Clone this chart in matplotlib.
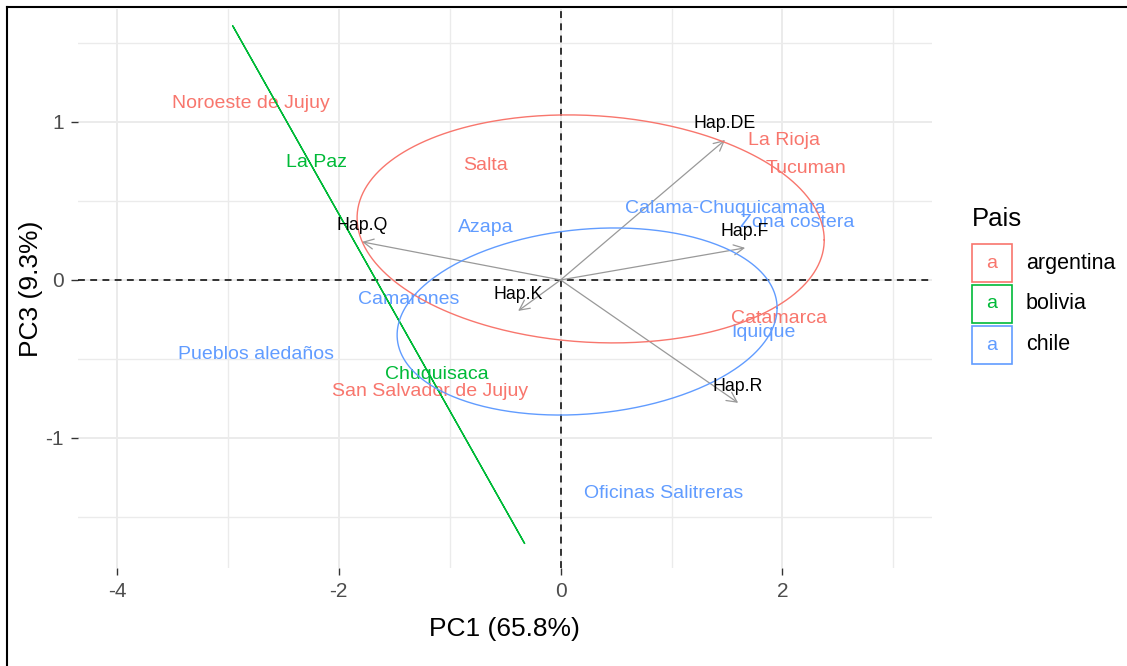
import numpy as np
import matplotlib
matplotlib.use("Agg")
import matplotlib.pyplot as plt
from matplotlib.patches import Rectangle
from matplotlib.lines import Line2D

plt.rcParams['font.family'] = ['Liberation Sans', 'DejaVu Sans']
plt.rcParams['axes.unicode_minus'] = False

# ---- data -------------------------------------------------------------
groups = ['argentina', 'bolivia', 'chile']
group_colors = ['#F8766D', '#00BA38', '#619CFF']

site_names = ['Noroeste de Jujuy', 'La Paz', 'Salta', 'La Rioja', 'Tucuman',
              'Calama-Chuquicamata', 'Zona costera', 'Azapa', 'Camarones',
              'Catamarca', 'Iquique', 'Pueblos aledaños', 'Chuquisaca',
              'San Salvador de Jujuy', 'Oficinas Salitreras']
site_group = ['argentina', 'bolivia', 'argentina', 'argentina', 'argentina',
              'chile', 'chile', 'chile', 'chile',
              'argentina', 'chile', 'chile', 'bolivia',
              'argentina', 'chile']
site_pc1 = [-2.795, -2.200, -0.676, 2.015, 2.214,
            1.483, 2.132, -0.672, -1.372,
            1.970, 1.833, -2.744, -1.116,
            -1.174, 0.933]
site_pc3 = [1.117, 0.741, 0.722, 0.884, 0.704,
            0.454, 0.363, 0.329, -0.125,
            -0.241, -0.335, -0.473, -0.599,
            -0.703, -1.350]

hap_names = ['Hap.DE', 'Hap.F', 'Hap.Q', 'Hap.K', 'Hap.R']
hap_pc1 = [1.483, 1.664, -1.790, -0.383, 1.601]
hap_pc3 = [0.886, 0.203, 0.241, -0.196, -0.778]

# group ellipses: centre, semi-extent along each axis, correlation
ellipse_cx = [0.271, -1.641, 0.239]
ellipse_cy = [0.323, -0.029, -0.263]
ellipse_rx = [2.106, 1.315, 1.713]
ellipse_ry = [0.7215, 1.637, 0.592]
ellipse_rho = [-0.0965, -1.0, 0.144]

x_major = [-4, -2, 0, 2]
x_minor = [-3, -1, 1, 3]
y_major = [-1, 0, 1]
y_minor = [-1.5, -0.5, 0.5, 1.5]

# ---- figure -------------------------------------------------------------
W, H = 1127, 666
fig = plt.figure(figsize=(W / 100, H / 100), dpi=100)
fig.patch.set_facecolor('white')


def fx(px):
    return px / W


def fy(py):
    return 1 - py / H


ax = fig.add_axes([fx(77.7), fy(568.3), (931.7 - 77.7) / W, (568.3 - 8.5) / H])
ax.set_xlim(-4.354, 3.346)
ax.set_ylim(-1.825, 1.718)
for s in ax.spines.values():
    s.set_visible(False)

ax.set_xticks(x_major)
ax.set_xticks(x_minor, minor=True)
ax.set_yticks(y_major)
ax.set_yticks(y_minor, minor=True)
ax.set_xticklabels([str(v) for v in x_major])
ax.set_yticklabels([str(v) for v in y_major])
ax.set_axisbelow(True)
ax.grid(which='major', color='#EBEBEB', lw=1.4)
ax.grid(which='minor', color='#EBEBEB', lw=1.0)
ax.tick_params(which='major', length=5, width=1.0, color='#333333',
               labelcolor='#4D4D4D', labelsize=15, pad=5)
ax.tick_params(which='minor', length=0)

# reference lines through the origin
ax.axhline(0, color='black', lw=1.1, ls=(0, (4.5, 3.5)), zorder=1.5)
ax.axvline(0, color='black', lw=1.1, ls=(0, (4.5, 3.5)), zorder=1.5)

# loading arrows
for name, x, y in zip(hap_names, hap_pc1, hap_pc3):
    ax.annotate('', xy=(x, y), xytext=(0, 0),
                arrowprops=dict(arrowstyle='->,head_length=0.6,head_width=0.3',
                                color='#999999', lw=0.9, shrinkA=0, shrinkB=0,
                                mutation_scale=12),
                zorder=2)

# site labels
color_of = dict(zip(groups, group_colors))
for name, g, x, y in zip(site_names, site_group, site_pc1, site_pc3):
    ax.text(x, y, name, color=color_of[g], fontsize=14, ha='center',
            va='center', zorder=3)

# group ellipses
t = np.linspace(0, 2 * np.pi, 361)
for g, cx, cy, rx, ry, rho in zip(groups, ellipse_cx, ellipse_cy, ellipse_rx,
                                  ellipse_ry, ellipse_rho):
    ex = cx + rx * np.cos(t)
    ey = cy + ry * (rho * np.cos(t) + np.sqrt(max(0.0, 1 - rho ** 2)) * np.sin(t))
    ax.plot(ex, ey, color=color_of[g], lw=1.0, zorder=4)

# loading labels
for name, x, y in zip(hap_names, hap_pc1, hap_pc3):
    ax.annotate(name, xy=(x, y), xytext=(0, 11.5), textcoords='offset points',
                fontsize=12.8, color='black', ha='center', va='center',
                zorder=5)

# axis titles
fig.text(fx(504.7), fy(629), 'PC1 (65.8%)', fontsize=19, ha='center',
         va='center', color='black')
fig.text(fx(31), fy(288.4), 'PC3 (9.3%)', fontsize=19, ha='center',
         va='center', rotation=90, color='black')

# legend
fig.text(fx(972), fy(219), 'Pais', fontsize=18.5, ha='left', va='center')
key_top = [244, 285, 326]
for g, c, top in zip(groups, group_colors, key_top):
    fig.add_artist(Rectangle((fx(972), fy(top + 38)), 40 / W, 38 / H,
                             transform=fig.transFigure, facecolor='white',
                             edgecolor=c, lw=1.2))
    fig.text(fx(992), fy(top + 19), 'a', color=c, fontsize=14, ha='center',
             va='center')
    fig.text(fx(1026), fy(top + 19), g, fontsize=15.5, ha='left', va='center',
             color='black')

# outer frame
fig.add_artist(Line2D([fx(7), fx(7)], [fy(7), 0], transform=fig.transFigure,
                      color='black', lw=1.5))
fig.add_artist(Line2D([fx(7), 1], [fy(7), fy(7)], transform=fig.transFigure,
                      color='black', lw=1.5))

fig.savefig('out.png', dpi=100)
